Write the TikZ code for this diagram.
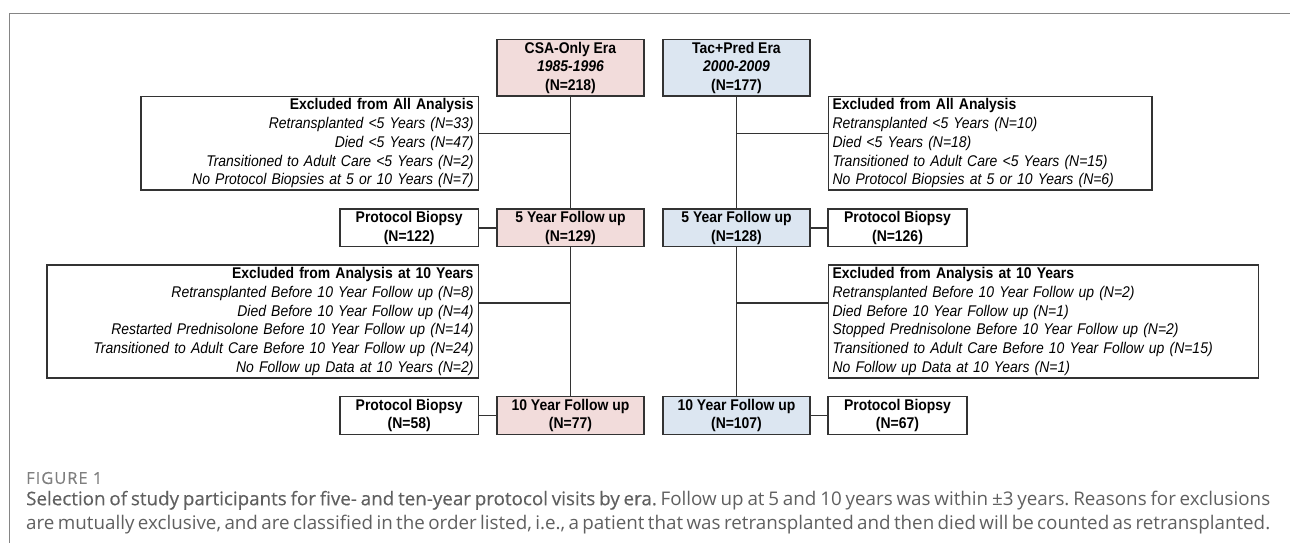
\documentclass[tikz,border=0pt]{standalone}
\usepackage{fontspec}
\setmainfont{Liberation Sans}[FakeStretch=0.9]
\newfontfamily\capfont{Open Sans}
\newfontfamily\capmed[FakeBold=0.35]{Open Sans}
\newfontfamily\figfont[FakeBold=0.2,LetterSpace=6]{Open Sans}
\definecolor{csafill}{HTML}{F2DCDB}
\definecolor{tacfill}{HTML}{DCE6F1}
\definecolor{edge}{HTML}{333333}
\definecolor{capgray}{HTML}{606060}
\definecolor{figgray}{HTML}{7F7F7F}
\definecolor{framegray}{HTML}{858585}
\begin{document}
\begin{tikzpicture}[x=1pt,y=-1pt,
  box/.style={draw=edge, line width=1.6pt, inner sep=0pt, align=center, text=black,
    font=\fontsize{15.5}{18.7}\selectfont},
  csabox/.style={box, fill=csafill, minimum width=147pt},
  tacbox/.style={box, fill=tacfill, minimum width=147pt},
  pbbox/.style={box, minimum width=138.5pt, minimum height=37.7pt},
  exleft/.style={box, inner xsep=5pt, align=right},
  exright/.style={box, inner xsep=4pt, align=left},
  conn/.style={draw=edge, line width=1.6pt},
  capline/.style={anchor=west, inner sep=0pt, text=capgray, font=\capfont\frenchspacing\fontsize{18.8}{22}\selectfont}
]
\useasboundingbox (0,0) rectangle (1290,543);
\draw[framegray, line width=1.2pt] (9.5,543) -- (9.5,13.3) -- (1290,13.3);

% top era boxes
\node[csabox, minimum height=56.7pt] (csa) at (570.5,67.7) {\textbf{CSA-Only Era}\\\textit{\textbf{1985-1996}}\\\textbf{(N=218)}};
\node[tacbox, minimum height=56.7pt] (tac) at (736.5,67.7) {\textbf{Tac+Pred Era}\\\textit{\textbf{2000-2009}}\\\textbf{(N=177)}};

% exclusion boxes, first level
\node[exleft, text width=327.5pt, minimum height=93.3pt] (exL1) at (309.8,143.3) {\textbf{Excluded from All Analysis}\\
\textit{Retransplanted <5 Years (N=33)}\\
\textit{Died <5 Years (N=47)}\\
\textit{Transitioned to Adult Care <5 Years (N=2)}\\
\textit{No Protocol Biopsies at 5 or 10 Years (N=7)}};
\node[exright, text width=315.4pt, minimum height=93.3pt] (exR1) at (990.3,143.3) {\textbf{Excluded from All Analysis}\\
\textit{Retransplanted <5 Years (N=10)}\\
\textit{Died <5 Years (N=18)}\\
\textit{Transitioned to Adult Care <5 Years (N=15)}\\
\textit{No Protocol Biopsies at 5 or 10 Years (N=6)}};

% 5 year row
\node[pbbox] (pbL5) at (409.2,227.8) {\textbf{Protocol Biopsy}\\\textbf{(N=122)}};
\node[csabox, minimum height=37.7pt] (fuL5) at (570.5,227.8) {\textbf{5 Year Follow up}\\\textbf{(N=129)}};
\node[tacbox, minimum height=37.7pt] (fuR5) at (736.5,227.8) {\textbf{5 Year Follow up}\\\textbf{(N=128)}};
\node[pbbox] (pbR5) at (897.5,227.8) {\textbf{Protocol Biopsy}\\\textbf{(N=126)}};

% exclusion boxes, second level
\node[exleft, text width=421.8pt, minimum height=113pt] (exL2) at (262.6,321.5) {\textbf{Excluded from Analysis at 10 Years}\\
\textit{Retransplanted Before 10 Year Follow up (N=8)}\\
\textit{Died Before 10 Year Follow up (N=4)}\\
\textit{Restarted Prednisolone Before 10 Year Follow up (N=14)}\\
\textit{Transitioned to Adult Care Before 10 Year Follow up (N=24)}\\
\textit{No Follow up Data at 10 Years (N=2)}};
\node[exright, text width=421.7pt, minimum height=113pt] (exR2) at (1043.5,321.5) {\textbf{Excluded from Analysis at 10 Years}\\
\textit{Retransplanted Before 10 Year Follow up (N=2)}\\
\textit{Died Before 10 Year Follow up (N=1)}\\
\textit{Stopped Prednisolone Before 10 Year Follow up (N=2)}\\
\textit{Transitioned to Adult Care Before 10 Year Follow up (N=15)}\\
\textit{No Follow up Data at 10 Years (N=1)}};

% 10 year row
\node[pbbox] (pbL10) at (409.2,415.5) {\textbf{Protocol Biopsy}\\\textbf{(N=58)}};
\node[csabox, minimum height=37.7pt] (fuL10) at (570.5,415.5) {\textbf{10 Year Follow up}\\\textbf{(N=77)}};
\node[tacbox, minimum height=37.7pt] (fuR10) at (736.5,415.5) {\textbf{10 Year Follow up}\\\textbf{(N=107)}};
\node[pbbox] (pbR10) at (897.5,415.5) {\textbf{Protocol Biopsy}\\\textbf{(N=67)}};

% vertical spines
\draw[conn] (csa.south) -- (fuL5.north);
\draw[conn] (fuL5.south) -- (fuL10.north);
\draw[conn] (tac.south) -- (fuR5.north);
\draw[conn] (fuR5.south) -- (fuR10.north);

% exclusion branches
\coordinate (jL1) at ([yshift=10pt]exL1.east);
\coordinate (jR1) at ([yshift=10pt]exR1.west);
\coordinate (jL2) at ([yshift=18.8pt]exL2.east);
\coordinate (jR2) at ([yshift=18.8pt]exR2.west);
\draw[conn] (jL1) -- (jL1 -| csa.south);
\draw[conn] (jR1) -- (jR1 -| tac.south);
\draw[conn] (jL2) -- (jL2 -| fuL5.south);
\draw[conn] (jR2) -- (jR2 -| fuR5.south);

% protocol biopsy links
\draw[conn] (pbL5.east) -- (fuL5.west);
\draw[conn] (fuR5.east) -- (pbR5.west);
\draw[conn] (pbL10.east) -- (fuL10.west);
\draw[conn] (fuR10.east) -- (pbR10.west);

% caption
\node[anchor=west, inner sep=0pt, text=figgray, font=\figfont\fontsize{16.5}{18}\selectfont] (figlabel) at (26,478) {FIGURE 1};
\node[capline] (cap1) at (26,500.3) {\makebox[1244pt][s]{{\capmed Selection of study participants for five- and ten-year protocol visits by era.} Follow up at 5 and 10 years was within ±3 years. Reasons for exclusions}};
\node[capline] (cap2) at (26,524.7) {\makebox[1244pt][s]{are mutually exclusive, and are classified in the order listed, i.e., a patient that was retransplanted and then died will be counted as retransplanted.}};
\end{tikzpicture}
\end{document}
